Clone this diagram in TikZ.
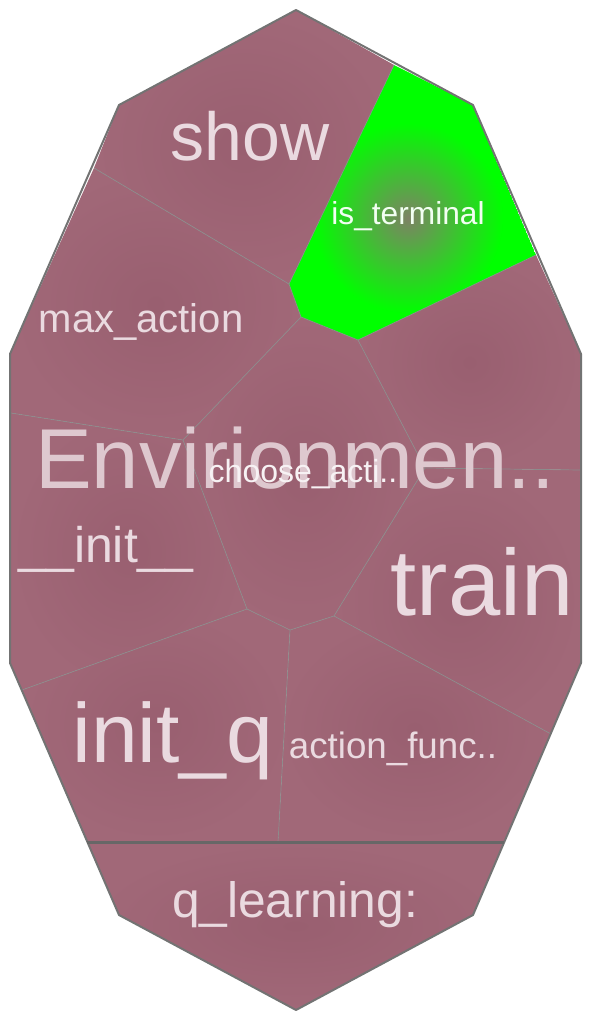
\documentclass[tikz,border=0pt]{standalone}
\usepackage{fontspec}
\setmainfont{Liberation Sans}
\usetikzlibrary{positioning}
\definecolor{cellin}{RGB}{153,95,112}
\definecolor{cellout}{RGB}{161,104,120}
\definecolor{termgreen}{RGB}{0,255,0}
\definecolor{glowmid}{RGB}{125,130,100}
\definecolor{edgegray}{RGB}{140,140,140}
\definecolor{rimgray}{RGB}{115,115,115}
\definecolor{labelpink}{RGB}{234,218,224}
\tikzstyle{cell} = [inner color=cellin, outer color=cellout]
\tikzstyle{edge} = [draw=edgegray, line width=0.7pt]
\tikzstyle{rim} = [draw=rimgray, line width=2pt, line join=round]
\tikzstyle{lbl} = [anchor=base, inner sep=0pt, text=labelpink]
\newcommand{\fsz}[1]{\fontsize{#1}{#1}\selectfont}

\begin{document}
\begin{tikzpicture}[x=1pt, y=-1pt]
\useasboundingbox (0,0) rectangle (592,1020);

% outer hull
\coordinate (t) at (296,10);
\coordinate (tr) at (473,105);
\coordinate (r1) at (581,354);
\coordinate (r2) at (581,663);
\coordinate (br) at (473,915);
\coordinate (b) at (296,1010);
\coordinate (bl) at (119,915);
\coordinate (l2) at (10,663);
\coordinate (l1) at (10,354);
\coordinate (tl) at (119,105);
% inner vertices
\coordinate (g1) at (394,65);
\coordinate (g2) at (536,255);
\coordinate (g3) at (358,340);
\coordinate (g4) at (301,317);
\coordinate (g5) at (289,284);
\coordinate (s1) at (94,168);
\coordinate (va) at (183,440);
\coordinate (l3) at (11,413);
\coordinate (vb) at (425,468);
\coordinate (r3) at (581,470);
\coordinate (vc) at (247,609);
\coordinate (vd) at (290,630);
\coordinate (ve) at (334,616);
\coordinate (l4) at (22,690);
\coordinate (r4) at (551,734);
\coordinate (q1) at (87,842);
\coordinate (q2) at (504,842);
\coordinate (vf) at (278,842);

% cells
\path[cell] (t) -- (g1) -- (g5) -- (s1) -- (tl) -- cycle;
\path[cell] (s1) -- (g5) -- (g4) -- (va) -- (l3) -- (l1) -- cycle;
\path[cell] (g3) -- (g2) -- (r1) -- (r3) -- (vb) -- cycle;
\path[cell] (g4) -- (g3) -- (vb) -- (ve) -- (vd) -- (vc) -- (va) -- cycle;
\path[cell] (l3) -- (va) -- (vc) -- (l4) -- (l2) -- cycle;
\path[cell] (vb) -- (r3) -- (r2) -- (r4) -- (ve) -- cycle;
\path[cell] (l4) -- (vc) -- (vd) -- (vf) -- (q1) -- cycle;
\path[cell] (vd) -- (ve) -- (r4) -- (q2) -- (vf) -- cycle;
\path[cell] (q1) -- (q2) -- (br) -- (b) -- (bl) -- cycle;

% highlighted cell
\begin{scope}
\clip (g1) -- (tr) -- (g2) -- (g3) -- (g4) -- (g5) -- cycle;
\fill[termgreen] (g1) -- (tr) -- (g2) -- (g3) -- (g4) -- (g5) -- cycle;
\shade[inner color=glowmid, outer color=termgreen] (408,218) circle (95);
\end{scope}

% borders
\draw[edge] (s1) -- (g5) -- (g1);
\draw[edge] (g5) -- (g4) -- (g3) -- (g2);
\draw[edge] (g4) -- (va) -- (l3);
\draw[edge] (va) -- (vc) -- (vd) -- (ve) -- (vb) -- (g3);
\draw[edge] (vb) -- (r3);
\draw[edge] (vc) -- (l4);
\draw[edge] (vd) -- (vf);
\draw[edge] (ve) -- (r4);
\draw[rim] (t) -- (tr) -- (r1) -- (r2) -- (br) -- (b) -- (bl) -- (l2) -- (l1) -- (tl) -- cycle;
\draw[rim, line width=3pt, draw=rimgray!90!black] (q1) -- (q2);

% labels
\node (show) [lbl] at (250,160) {\fsz{68}show};
\node (term) [lbl, text=white!95!green] at (408,224) {\fsz{31.7}is\_terminal};
\node (maxact) [lbl] at (141,332) {\fsz{40}max\_action};
\node (env) [lbl, text=labelpink!85!cellin] at (295,488) {\fsz{85}Envirionmen..};
\node (choose) [lbl, text=white!92!cellin] at (303,482) {\fsz{32}choose\_acti..};
\node (init) [lbl] at (106,562) {\fsz{50}\_\_init\_\_};
\node (train) [lbl] at (482,615) {\fsz{94}train};
\node (initq) [lbl] at (173,762) {\fsz{84}init\_q};
\node (actf) [lbl] at (393,758) {\fsz{36.7}action\_func..};
\node (qlearn) [lbl] at (295,917) {\fsz{49.7}q\_learning:};

\end{tikzpicture}
\end{document}
